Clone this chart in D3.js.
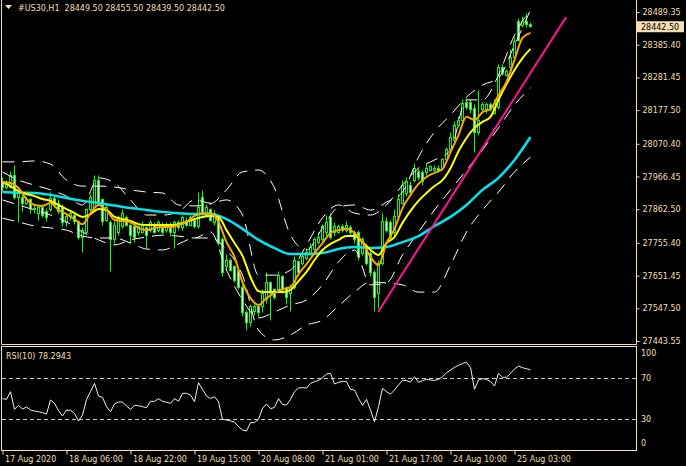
<!DOCTYPE html>
<html><head><meta charset="utf-8">
<script src="https://cdn.jsdelivr.net/npm/d3@7"></script>
<style>body{margin:0;background:#000;overflow:hidden}svg{display:block}text{font-family:"DejaVu Sans",sans-serif;font-size:8px}</style>
</head><body><svg id="chart" width="686" height="466"></svg>
<script>
// ---- data (US30, H1) ----
const symbol = "#US30,H1";
const header = [28449.50, 28455.50, 28439.50, 28442.50];
const opens = [27949,27930,27933,27971,27901,27901,27882,27892,27866,27850,27869,27854,27860,27898,27882,27869,27819,27838,27844,27822,27774,27790,27860,27869,27955,27892,27828,27819,27765,27787,27806,27835,27812,27806,27787,27790,27803,27796,27812,27796,27812,27796,27812,27790,27819,27803,27828,27812,27828,27806,27901,27844,27860,27819,27835,27765,27679,27701,27679,27669,27615,27533,27501,27536,27552,27552,27574,27628,27606,27606,27647,27612,27596,27615,27695,27691,27707,27723,27733,27758,27765,27787,27835,27787,27790,27806,27796,27803,27787,27787,27723,27742,27723,27660,27596,27691,27822,27819,27787,27838,27882,27914,27939,27955,27981,27978,27978,27987,27987,27993,27993,28019,28051,28082,28130,28146,28203,28203,28184,28105,28178,28178,28194,28168,28187,28314,28289,28314,28346,28458,28448,28458,28449.5];
const highs = [27962,27955,27981,28003,27924,27908,27901,27898,27876,27879,27876,27866,27917,27904,27892,27876,27847,27857,27854,27828,27803,27866,27908,27971,27971,27898,27876,27828,27822,27844,27860,27841,27819,27812,27812,27822,27809,27828,27819,27825,27819,27819,27819,27825,27825,27841,27835,27841,27835,27917,27923,27876,27866,27857,27841,27771,27717,27707,27685,27675,27622,27542,27558,27561,27561,27606,27660,27634,27612,27663,27653,27618,27622,27711,27701,27720,27739,27755,27774,27787,27815,27844,27850,27819,27815,27815,27822,27812,27796,27796,27771,27749,27733,27669,27701,27850,27835,27828,27860,27908,27955,27962,27949,28009,27993,27987,28009,28003,28000,28000,28025,28060,28105,28140,28156,28210,28213,28210,28194,28241,28203,28203,28203,28210,28324,28324,28305,28369,28407,28470,28474,28486,28455.5];
const lows = [27918,27924,27927,27892,27819,27854,27876,27850,27850,27828,27835,27822,27854,27869,27847,27809,27809,27828,27815,27765,27726,27784,27854,27863,27876,27812,27822,27663,27755,27780,27800,27806,27755,27758,27780,27784,27739,27790,27784,27790,27784,27790,27777,27739,27796,27796,27806,27806,27800,27800,27844,27838,27822,27812,27746,27647,27669,27663,27628,27606,27520,27478,27491,27526,27523,27533,27564,27510,27574,27599,27596,27558,27536,27606,27650,27682,27701,27714,27726,27749,27755,27780,27765,27777,27784,27790,27790,27777,27755,27701,27714,27682,27650,27536,27548,27685,27787,27765,27777,27831,27876,27904,27908,27946,27955,27939,27971,27981,27981,27978,27987,28013,28044,28076,28121,28140,28178,28168,28044,28098,28172,28168,28172,28162,28178,28289,28283,28308,28337,28394,28439,28439,28439.5];
const closes = [27930,27946,27971,27901,27917,27882,27892,27866,27860,27869,27844,27835,27898,27876,27854,27819,27838,27850,27822,27774,27796,27860,27901,27955,27882,27822,27869,27765,27812,27835,27850,27812,27780,27771,27806,27812,27780,27819,27790,27819,27790,27812,27790,27819,27803,27835,27812,27835,27806,27869,27850,27869,27828,27850,27755,27660,27701,27669,27637,27615,27533,27501,27552,27552,27533,27596,27628,27596,27583,27653,27606,27583,27615,27701,27660,27711,27726,27742,27765,27774,27806,27819,27774,27806,27806,27796,27812,27787,27765,27711,27765,27691,27660,27583,27691,27822,27796,27774,27838,27892,27939,27949,27917,27993,27962,27949,27993,27997,27993,27984,28019,28051,28092,28130,28146,28200,28187,28178,28105,28146,28194,28194,28178,28200,28314,28295,28299,28346,28394,28400,28458,28451,28442.5];

// moving averages sampled every 2 bars, bands / slow MA every 4 bars
const orangeMA = [27949,27946,27930,27895,27876,27873,27882,27860,27847,27831,27815,27850,27876,27860,27828,27825,27822,27803,27796,27803,27806,27806,27812,27822,27841,27850,27850,27822,27758,27711,27631,27580,27558,27580,27596,27609,27615,27656,27688,27723,27755,27787,27796,27800,27787,27758,27711,27685,27755,27800,27866,27908,27943,27965,27978,27990,28044,28098,28156,28146,28171,28181,28225,28267,28337,28407,28423];
const yellowMA = [27949,27936,27920,27911,27904,27895,27889,27876,27863,27850,27838,27847,27863,27860,27838,27831,27825,27815,27812,27812,27812,27812,27815,27822,27831,27838,27841,27838,27796,27755,27714,27647,27602,27599,27599,27599,27606,27634,27663,27701,27733,27752,27765,27777,27777,27758,27733,27717,27755,27774,27819,27857,27889,27914,27936,27955,27993,28047,28089,28121,28140,28156,28210,28260,28305,28343,28372];
const cyanMA = [27917,27915,27914,27908,27898,27889,27882,27874,27866,27860,27854,27850,27847,27847,27831,27800,27765,27739,27720,27720,27723,27736,27742,27739,27742,27758,27777,27809,27838,27876,27924,27962,28019,28092];
const bandUpper = [28013,28013,28016,28006,27955,27936,27936,27933,27924,27917,27914,27876,27873,27879,27924,27981,27987,27930,27780,27733,27803,27869,27876,27860,27885,27917,28028,28108,28162,28219,28257,28280,28384,28496];
const bandLower = [27834,27822,27809,27803,27796,27777,27771,27771,27755,27736,27733,27752,27771,27771,27733,27653,27478,27447,27463,27494,27510,27555,27599,27631,27628,27622,27599,27599,27685,27790,27860,27917,27981,28028];
const innerUpper = [27981,27955,27939,27924,27904,27876,27962,27946,27892,27844,27844,27854,27892,27882,27892,27844,27653,27653,27669,27749,27835,27876,27850,27844,27876,27939,27993,28019,28051,28210,28210,28289,28416,28496];
const innerLower = [27892,27876,27860,27844,27822,27790,27765,27749,27765,27774,27780,27777,27771,27790,27669,27574,27517,27536,27558,27574,27622,27695,27733,27622,27628,27717,27790,27860,27924,27987,28051,28121,28194,28248];
const trendBars = [93.9, 140.9];
const trendPrices = [27536, 28473];

const rsiValues = [50.1,49.4,56.9,39.7,43.6,40.0,42.0,39.0,38.0,37.4,36.4,35.1,48.8,45.5,38.4,33.2,39.0,38.7,35.8,28.3,34.1,49.4,56.9,65.0,52.7,51.4,42.3,37.4,44.9,46.8,46.8,42.9,39.7,43.6,43.2,42.3,41.3,47.5,47.5,50.1,47.5,46.5,45.5,50.1,47.5,55.3,55.3,53.6,47.1,65.7,59.2,52.7,50.1,52.0,47.1,29.9,29.3,28.3,27.3,22.8,19.5,18.5,26.7,26.7,29.9,40.6,44.9,40.3,41.6,50.1,44.2,43.9,49.4,56.9,60.5,60.8,60.5,65.0,66.6,67.9,70.6,74.1,74.8,64.4,66.0,67.0,66.6,59.2,58.5,50.4,43.6,49.4,39.0,27.6,42.3,60.2,56.9,54.6,58.5,63.4,68.0,67.6,66.3,71.5,66.0,67.6,68.9,68.3,67.9,68.9,71.5,75.4,78.0,80.6,82.6,84.5,85.5,80.6,59.2,68.3,69.6,68.9,66.6,62.4,74.8,70.9,70.9,74.8,79.0,81.9,80.3,79.3,78.2943];
const rsiPeriod = 10;
const rsiLevels = [70, 30];
const rsiTicks = [100, 70, 30, 0];

const priceTicks = [28489.35,28385.40,28281.45,28177.50,28070.40,27966.45,27862.50,27755.40,27651.45,27547.50,27443.55];
const timeTickBars = [0,16,32,48,64,80,96,112,128];
const timeLabels = ["17 Aug 2020","18 Aug 06:00","18 Aug 22:00","19 Aug 15:00","20 Aug 08:00","21 Aug 01:00","21 Aug 17:00","24 Aug 10:00","25 Aug 03:00"];

// ---- drawing ----
const FG = "#f5deb3", GREEN = "#00ff00";
const svg = d3.select("#chart");
svg.append("rect").attr("width",686).attr("height",466).attr("fill","#000");

const n = closes.length;
const x = d3.scaleLinear().domain([0, n-1]).range([2.5, 2.5 + 4*(n-1)]);
const y = d3.scaleLinear().domain([27443.55, 28489.35]).range([341, 12]);
const ry = d3.scaleLinear().domain([0, 100]).range([450, 347.5]);
const snap = v => Math.round(v - 0.5) + 0.5;

svg.append("clipPath").attr("id","mainClip").append("rect").attr("x",2).attr("y",0).attr("width",634).attr("height",344);
svg.append("clipPath").attr("id","rsiClip").append("rect").attr("x",2).attr("y",347).attr("width",634).attr("height",103);

const main = svg.append("g").attr("clip-path","url(#mainClip)");

// candles
const bars = d3.range(n);
main.append("g").selectAll("line").data(bars).join("line")
  .attr("x1", i => x(i)).attr("x2", i => x(i))
  .attr("y1", i => snap(y(highs[i]))).attr("y2", i => snap(y(lows[i])))
  .attr("stroke", GREEN).attr("stroke-width",1);
main.append("g").selectAll("rect").data(bars).join("rect")
  .attr("x", i => x(i) - 1).attr("width", 2)
  .attr("y", i => snap(y(Math.max(opens[i], closes[i]))))
  .attr("height", i => Math.max(1, snap(y(Math.min(opens[i], closes[i]))) - snap(y(Math.max(opens[i], closes[i])))))
  .attr("fill", i => closes[i] < opens[i] ? "#ffffff" : "#000000")
  .attr("stroke", GREEN).attr("stroke-width",1);

// bands
const idx4 = d3.range(0, n, 4), idx2 = d3.range(0, n, 2);
const mk = idx => d3.line().x((d,k) => x(idx[k])).y(d => y(d)).curve(d3.curveMonotoneX);
[bandUpper, bandLower, innerUpper, innerLower].forEach(arr => {
  main.append("path").attr("d", mk(idx4)(arr)).attr("fill","none")
    .attr("stroke","#ffffff").attr("stroke-width",1).attr("stroke-dasharray","12,8");
});
main.append("path").attr("d", mk(idx4)(cyanMA)).attr("fill","none").attr("stroke","#00e5f0").attr("stroke-width",2.5);
main.append("path").attr("d", mk(idx2)(yellowMA)).attr("fill","none").attr("stroke","#ffff00").attr("stroke-width",2);
main.append("path").attr("d", mk(idx2)(orangeMA)).attr("fill","none").attr("stroke","#ffa500").attr("stroke-width",2);
// trend line
main.append("line").attr("x1", x(trendBars[0])).attr("y1", y(trendPrices[0]))
  .attr("x2", x(trendBars[1])).attr("y2", y(trendPrices[1]))
  .attr("stroke","#ff1493").attr("stroke-width",2);

// frames
svg.append("path").attr("d","M1.5,0V344.5H636.5V0").attr("fill","none").attr("stroke",FG);
svg.append("rect").attr("x",1.5).attr("y",346.5).attr("width",635).attr("height",104).attr("fill","none").attr("stroke",FG);

// price axis
const pa = svg.append("g").attr("transform","translate(636.5,0)")
  .call(d3.axisRight(y).tickValues(priceTicks).tickFormat(d3.format(".2f")).tickSize(3).tickPadding(3).tickSizeOuter(0));
pa.select(".domain").remove();
pa.selectAll("line").attr("stroke",FG);
pa.selectAll("text").attr("fill",FG).style("font-family","DejaVu Sans").style("font-size","8px");

// current price marker
const last = closes[n-1];
svg.append("rect").attr("x",637).attr("y", y(last)-5.5).attr("width",47).attr("height",11).attr("fill",FG);
svg.append("text").attr("x",641).attr("y", y(last)+3).attr("fill","#000").text(d3.format(".2f")(last));

// header
svg.append("path").attr("d","M5,5H12L8.5,9Z").attr("fill",FG);
svg.append("text").attr("x",18).attr("y",10.5).attr("fill",FG).attr("xml:space","preserve")
  .text(symbol + "  " + header.map(d3.format(".2f")).join(" "));

// time axis
const ta = svg.append("g").attr("transform","translate(0,450.5)")
  .call(d3.axisBottom(x).tickValues(timeTickBars).tickFormat((d,k) => timeLabels[k]).tickSize(4).tickSizeOuter(0));
ta.select(".domain").remove();
ta.selectAll("line").attr("stroke",FG);
ta.selectAll("text").attr("fill",FG).attr("text-anchor","start").attr("x",2).attr("y",6).attr("dy","0.71em")
  .style("font-family","DejaVu Sans").style("font-size","8px");

// RSI panel
const rg = svg.append("g").attr("clip-path","url(#rsiClip)");
rg.selectAll("line.lvl").data(rsiLevels).join("line").attr("class","lvl")
  .attr("x1",2).attr("x2",636).attr("y1", d => snap(ry(d))).attr("y2", d => snap(ry(d)))
  .attr("stroke","#c8c8c8").attr("stroke-dasharray","4,3");
rg.append("path").attr("d", d3.line().x((d,i) => x(i)).y(d => ry(d))(rsiValues))
  .attr("fill","none").attr("stroke","#f0f0f0").attr("stroke-width",1);
svg.append("text").attr("x",6).attr("y",358.5).attr("fill",FG)
  .text("RSI(" + rsiPeriod + ") " + d3.format(".4f")(rsiValues[n-1]));
svg.append("g").selectAll("text").data(rsiTicks).join("text")
  .attr("x",641).attr("y", d => d === 100 ? ry(d) + 8.5 : d === 0 ? ry(d) - 4 : ry(d) + 3)
  .attr("fill",FG).text(d => d);
</script></body></html>
